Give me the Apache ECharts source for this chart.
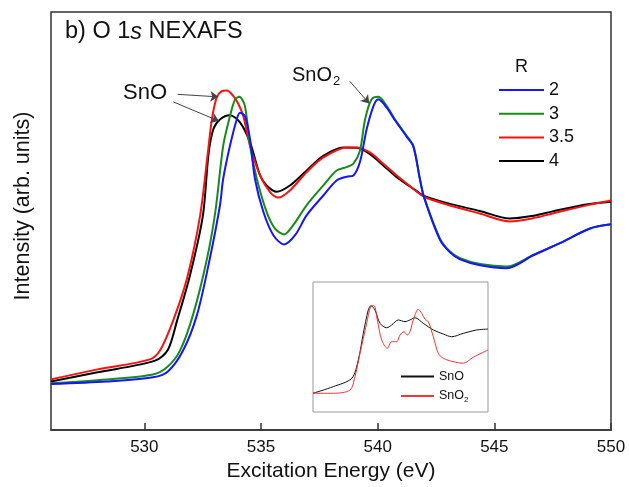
<!DOCTYPE html>
<html>
<head>
<meta charset="utf-8">
<script src="https://cdn.jsdelivr.net/npm/echarts@6/dist/echarts.min.js"></script>
<style>
html,body{margin:0;padding:0;background:#fff;}
#chart{width:629px;height:487px;}
</style>
</head>
<body>
<div id="chart"></div>
<script>
// ---- data (x: excitation energy in eV, y: intensity in arb. units) ----
const xTicks = [530, 535, 540, 545, 550];
const seriesNames = ['2', '3', '3.5', '4'];

const r2 = [[526.0,0.110],[528.4,0.116],[530.37,0.126],[531.01,0.140],[531.66,0.190],[532.26,0.276],[532.81,0.411],[533.24,0.537],[533.38,0.601],[533.67,0.680],[533.96,0.743],[534.1,0.759],[534.31,0.751],[534.53,0.696],[534.74,0.601],[535.1,0.522],[535.53,0.466],[535.99,0.444],[536.46,0.466],[536.96,0.514],[537.67,0.561],[538.24,0.597],[538.67,0.606],[538.96,0.609],[539.24,0.641],[539.53,0.720],[539.82,0.775],[540.03,0.791],[540.39,0.771],[540.74,0.741],[541.24,0.702],[541.53,0.678],[541.81,0.600],[541.99,0.556],[542.67,0.455],[543.1,0.425],[543.53,0.408],[544.39,0.394],[545.53,0.387],[546.67,0.418],[547.81,0.447],[549.1,0.482],[550.0,0.492]];

const r3 = [[526.0,0.112],[528.4,0.121],[530.37,0.133],[530.97,0.150],[531.53,0.190],[532.09,0.276],[532.69,0.411],[533.05,0.525],[533.38,0.680],[533.67,0.751],[533.89,0.791],[534.07,0.797],[534.31,0.775],[534.53,0.680],[534.82,0.601],[535.24,0.522],[535.6,0.482],[535.99,0.468],[536.38,0.490],[536.96,0.538],[537.67,0.585],[538.24,0.621],[538.67,0.629],[538.96,0.637],[539.24,0.668],[539.46,0.743],[539.74,0.791],[540.03,0.797],[540.39,0.775],[540.74,0.743],[541.24,0.704],[541.53,0.680],[541.81,0.601],[541.99,0.557],[542.67,0.458],[543.1,0.427],[543.53,0.411],[544.39,0.397],[545.53,0.391],[546.67,0.419],[547.81,0.447],[549.1,0.482],[550.0,0.492]];

const r35 = [[526.0,0.121],[528.0,0.145],[530.24,0.169],[530.67,0.190],[531.23,0.261],[531.83,0.363],[532.39,0.513],[532.74,0.672],[532.9,0.745],[533.1,0.795],[533.3,0.810],[533.53,0.812],[533.8,0.800],[534.03,0.780],[534.24,0.751],[534.53,0.680],[534.96,0.609],[535.39,0.569],[535.74,0.556],[536.24,0.573],[536.96,0.617],[537.67,0.652],[538.67,0.676],[539.1,0.676],[539.67,0.664],[540.24,0.637],[540.82,0.609],[541.53,0.577],[541.99,0.558],[543.1,0.537],[544.38,0.518],[545.67,0.499],[546.6,0.506],[547.5,0.518],[549.0,0.538],[550.0,0.549]];

const r4 = [[526.0,0.116],[528.0,0.138],[530.46,0.166],[531.01,0.192],[531.40,0.261],[531.96,0.371],[532.51,0.513],[532.75,0.660],[532.96,0.720],[533.24,0.743],[533.67,0.753],[534.10,0.736],[534.53,0.688],[534.96,0.609],[535.24,0.585],[535.67,0.570],[536.24,0.585],[536.96,0.621],[537.67,0.656],[538.53,0.676],[539.1,0.675],[539.67,0.660],[540.24,0.633],[540.82,0.605],[541.53,0.577],[541.99,0.560],[543.1,0.541],[544.38,0.524],[545.67,0.506],[546.6,0.512],[547.5,0.523],[549.0,0.540],[550.0,0.546]];

// inset reference spectra
const insetSnO = [[526.0,0.144],[528.78,0.195],[531.31,0.259],[532.21,0.400],[532.90,0.605],[533.58,0.785],[533.95,0.818],[534.50,0.785],[535.19,0.682],[536.11,0.648],[536.79,0.669],[537.70,0.708],[538.62,0.695],[539.30,0.708],[539.99,0.725],[541.13,0.682],[542.50,0.631],[543.87,0.600],[545.02,0.579],[546.61,0.605],[548.45,0.631],[550.0,0.638]];
const insetSnO2 = [[526.0,0.144],[528.78,0.144],[531.07,0.169],[531.76,0.272],[532.45,0.452],[533.36,0.682],[533.91,0.810],[534.37,0.818],[534.82,0.708],[535.42,0.554],[536.19,0.490],[536.79,0.541],[537.48,0.541],[537.93,0.592],[538.48,0.618],[538.93,0.592],[539.30,0.618],[539.75,0.708],[540.44,0.790],[540.91,0.759],[541.36,0.713],[541.81,0.695],[542.50,0.579],[543.18,0.452],[543.87,0.413],[545.24,0.387],[546.61,0.375],[547.98,0.421],[550.0,0.477]];

// annotation arrows (data coordinates)
const arrows = [
  [[531.43,0.803],[533.17,0.797]],
  [[531.24,0.785],[533.20,0.739]],
  [[538.81,0.834],[539.64,0.781]]
];

const FONT = '"Liberation Sans", Arial, sans-serif';
const colors = {'2':'#1515ff','3':'#178c17','3.5':'#ff1010','4':'#000000'};

const chart = echarts.init(document.getElementById('chart'), null, {renderer:'canvas'});

function mainSeries(name, data, z){
  return {
    name: name, type:'line', data: data, xAxisIndex:0, yAxisIndex:0,
    smooth:0.3, symbol:'none', z:z,
    lineStyle:{color:colors[name], width:2},
    itemStyle:{color:colors[name]}
  };
}

const option = {
  animation:false,
  backgroundColor:'#fff',
  textStyle:{fontFamily:FONT},
  grid:[
    {left:51, top:12, right:18, bottom:54, show:true, borderColor:'#333', borderWidth:1.5, backgroundColor:'transparent'},
    {left:313, top:282, width:175, height:130, show:true, borderColor:'#999', borderWidth:1, backgroundColor:'#fff'}
  ],
  xAxis:[
    {type:'value', gridIndex:0, min:526, max:550,
     name:'Excitation Energy (eV)', nameLocation:'middle', nameGap:31,
     nameTextStyle:{fontSize:21, color:'#111', fontFamily:FONT},
     axisLine:{show:true, lineStyle:{color:'#333', width:1.5}},
     axisTick:{show:true, inside:true, length:7, customValues:xTicks, lineStyle:{color:'#333', width:1.5}},
     axisLabel:{show:true, customValues:xTicks, margin:9, fontSize:17, color:'#111', fontFamily:FONT},
     splitLine:{show:false}},
    {type:'value', gridIndex:1, min:526, max:550, show:false, splitLine:{show:false}}
  ],
  yAxis:[
    {type:'value', gridIndex:0, min:0, max:1, axisLine:{show:false}, axisTick:{show:false}, axisLabel:{show:false}, splitLine:{show:false}},
    {type:'value', gridIndex:1, min:0, max:1, show:false, splitLine:{show:false}}
  ],
  legend:[
    {data:seriesNames, orient:'vertical', left:498, top:81, padding:0, itemWidth:45, itemHeight:14, itemGap:5.7,
     itemStyle:{opacity:0, borderWidth:0},
     textStyle:{fontSize:18, color:'#111', fontFamily:FONT}, selectedMode:false},
    {data:['SnO','SnO2'], orient:'vertical', left:400, top:370, padding:0, itemWidth:33, itemHeight:10, itemGap:6.5,
     itemStyle:{opacity:0, borderWidth:0},
     selectedMode:false,
     formatter:function(n){ return n === 'SnO2' ? '{a|SnO}{s|2}' : '{a|SnO}'; },
     textStyle:{fontSize:12.5, color:'#111', fontFamily:FONT,
       rich:{a:{fontSize:12.5, fontFamily:FONT, color:'#111'}, s:{fontSize:8, fontFamily:FONT, color:'#111', padding:[7,0,0,0]}}}}
  ],
  series:[
    mainSeries('4', r4, 2),
    Object.assign(mainSeries('3.5', r35, 3), {
      markLine:{silent:true, symbol:['none','arrow'], symbolSize:8, animation:false,
        label:{show:false},
        lineStyle:{color:'#444', width:1, type:'solid'},
        data: arrows.map(a => [{coord:a[0]},{coord:a[1]}])}
    }),
    mainSeries('3', r3, 4),
    mainSeries('2', r2, 5),
    {name:'SnO', type:'line', data:insetSnO, xAxisIndex:1, yAxisIndex:1, smooth:0.3, symbol:'none',
     lineStyle:{color:'#111', width:1}, itemStyle:{color:'#111'}},
    {name:'SnO2', type:'line', data:insetSnO2, xAxisIndex:1, yAxisIndex:1, smooth:0.3, symbol:'none',
     lineStyle:{color:'#ff3030', width:1}, itemStyle:{color:'#ff3030'}}
  ],
  graphic:[
    {type:'text', left:65, top:20, style:{
      text:'{n|b) O 1}{i|s}{n| NEXAFS}', fill:'#111',
      rich:{n:{fontSize:23.5, lineHeight:26, verticalAlign:'middle', fontFamily:FONT, fill:'#111'},
            i:{fontSize:23.5, lineHeight:26, verticalAlign:'middle', fontFamily:FONT, fontStyle:'italic', fill:'#111'}}}},
    {type:'text', left:123, top:82, style:{text:'SnO', fontSize:22, fontFamily:FONT, fill:'#111'}},
    {type:'text', left:292, top:65, style:{
      text:'{a|SnO}{s|2}', fill:'#111',
      rich:{a:{fontSize:20, fontFamily:FONT, fill:'#111'}, s:{fontSize:13, fontFamily:FONT, fill:'#111', padding:[12,0,0,1]}}}},
    {type:'text', left:515, top:58, style:{text:'R', fontSize:18, fontFamily:FONT, fill:'#111'}},
    {type:'text', x:23, y:206, rotation:Math.PI/2, style:{text:'Intensity (arb. units)', fontSize:21.5, fontFamily:FONT, fill:'#111', align:'center', verticalAlign:'middle'}}
  ]
};
chart.setOption(option);
</script>
</body>
</html>
